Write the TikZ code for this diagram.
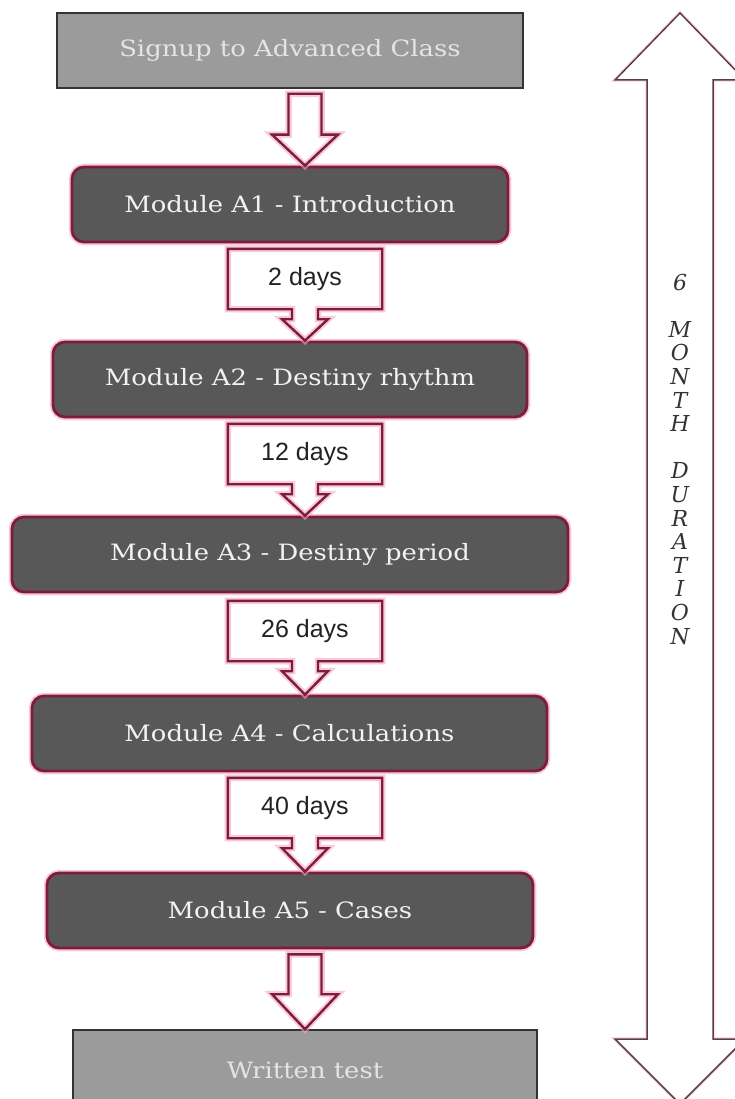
\documentclass[tikz,border=0pt]{standalone}
\usepackage{fontspec}
\setmainfont{DejaVu Serif}
\newfontfamily\modfont{DejaVu Serif}[FakeStretch=1.15]
\newfontfamily\dayfont{Liberation Sans}
\usetikzlibrary{calc}
\definecolor{mmaroon}{HTML}{7E1C3A}
\definecolor{glowpink}{HTML}{F2A9C0}
\definecolor{modgray}{HTML}{585858}
\definecolor{modtext}{HTML}{F2F2F2}
\definecolor{boxgray}{HTML}{9B9B9B}
\definecolor{boxedge}{HTML}{333333}
\definecolor{boxtext}{HTML}{E4E4E4}
\definecolor{daytext}{HTML}{222222}
\definecolor{durcol}{HTML}{5E3B4C}
\definecolor{durtext}{HTML}{333333}
\tikzset{
  glow/.style={preaction={draw=glowpink, line width=6.5pt, opacity=0.6}},
  graybox/.style={draw=boxedge, line width=1.6pt, fill=boxgray, text=boxtext,
    font=\modfont\fontsize{22.5}{27}\selectfont, inner sep=0pt},
  module/.style={rounded corners=12pt, draw=mmaroon, line width=2.8pt, fill=modgray,
    text=modtext, glow, font=\modfont\fontsize{22.5}{27}\selectfont, inner sep=0pt,
    minimum height=75pt},
  daybox/.style={minimum width=154pt, minimum height=60pt, inner sep=0pt,
    font=\dayfont\fontsize{25}{30}\selectfont, text=daytext},
  outline/.style={draw=mmaroon, line width=2.4pt, line join=miter, glow},
  durline/.style={draw=durcol, line width=1.5pt, fill=white,
    preaction={draw=glowpink, line width=4pt, opacity=0.35}},
  durlabel/.style={font=\itshape\fontsize{22}{23.6}\selectfont, align=center, text=durtext}
}
\newcommand{\blockarrow}[5]{%
  \draw[outline] let \p1=(#1), \p2=(#2) in
    (\x2-#3pt,\y1) -- (\x2+#3pt,\y1) -- (\x2+#3pt,\y2+#5pt) -- (\x2+#4pt,\y2+#5pt)
    -- (\x2,\y2) -- (\x2-#4pt,\y2+#5pt) -- (\x2-#3pt,\y2+#5pt) -- cycle;}
\newcommand{\callout}[2]{%
  \draw[outline] let \p1=(#1.south), \p2=(#2.north) in
    (#1.north west) -- (#1.north east) -- (#1.south east)
    -- (\x1+13pt,\y1) -- (\x1+13pt,\y1-10pt) -- (\x1+23pt,\y1-10pt)
    -- (\x1,\y2) -- (\x1-23pt,\y1-10pt) -- (\x1-13pt,\y1-10pt)
    -- (\x1-13pt,\y1) -- (#1.south west) -- cycle;}
\begin{document}
\begin{tikzpicture}[x=1pt,y=-1pt]
\useasboundingbox (0,0) rectangle (735,1099);
\clip (0,0) rectangle (735,1099);
\fill[white] (0,0) rectangle (735,1099);

% duration double arrow
\draw[durline] (680,13) -- (745,80) -- (713,80) -- (713,1039) -- (745,1039)
  -- (680,1104) -- (615,1039) -- (647,1039) -- (647,80) -- (615,80) -- cycle;
\node[durlabel] (dur) at (680,459)
  {6\\[23.6pt]M\\O\\N\\T\\H\\[23.6pt]D\\U\\R\\A\\T\\I\\O\\N};

% boxes
\node[graybox, minimum width=466pt, minimum height=75pt] (signup) at (290,50.5) {Signup to Advanced Class};
\node[module, minimum width=436pt] (a1) at (290,204.5) {Module A1 - Introduction};
\node[module, minimum width=474pt] (a2) at (290,379.5) {Module A2 - Destiny rhythm};
\node[module, minimum width=556pt] (a3) at (290,554.5) {Module A3 - Destiny period};
\node[module, minimum width=515pt] (a4) at (289.5,733.5) {Module A4 - Calculations};
\node[module, minimum width=486pt] (a5) at (290,910.5) {Module A5 - Cases};
\node[graybox, minimum width=464pt, minimum height=80pt] (written) at (305,1070) {Written test};

% day callouts
\node[daybox] (d1) at (305,279) {2 days};
\node[daybox] (d2) at (305,454) {12 days};
\node[daybox] (d3) at (305,631) {26 days};
\node[daybox] (d4) at (305,808) {40 days};
\callout{d1}{a2}
\callout{d2}{a3}
\callout{d3}{a4}
\callout{d4}{a5}

% hollow arrows
\coordinate (ar1top) at ($(signup.south)+(15,5)$);
\coordinate (ar1tip) at (a1.north -| ar1top);
\blockarrow{ar1top}{ar1tip}{16.5}{33}{31}
\coordinate (ar2top) at ($(a5.south)+(15,5)$);
\coordinate (ar2tip) at (written.north -| ar2top);
\blockarrow{ar2top}{ar2tip}{16.5}{33}{35}
\end{tikzpicture}
\end{document}
